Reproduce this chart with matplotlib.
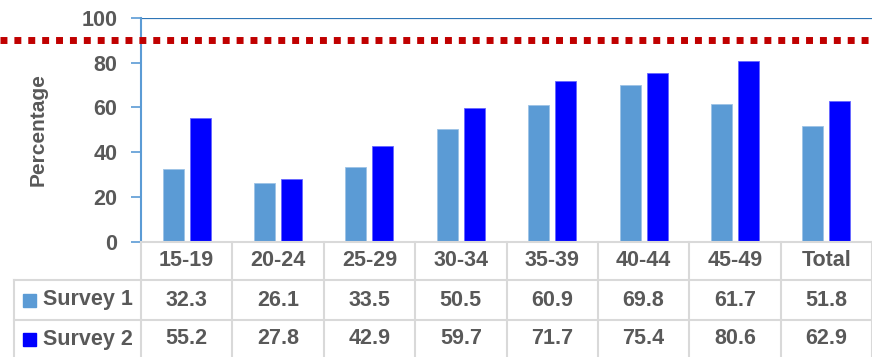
import matplotlib.pyplot as plt
from matplotlib.lines import Line2D
from matplotlib.patches import Rectangle

# Data
age_groups = ['15-19', '20-24', '25-29', '30-34', '35-39', '40-44', '45-49', 'Total']
survey1 = [32.3, 26.1, 33.5, 50.5, 60.9, 69.8, 61.7, 51.8]
survey2 = [55.2, 27.8, 42.9, 59.7, 71.7, 75.4, 80.6, 62.9]
series_names = ['Survey 1', 'Survey 2']
target = 90

c1 = '#5B9BD5'
c2 = '#0000FF'
grey = '#595959'
grid = '#D9D9D9'

plt.rcParams['font.family'] = ['Liberation Sans', 'DejaVu Sans']
plt.rcParams['font.weight'] = 'bold'

W, H = 872, 357
fig = plt.figure(figsize=(W / 100, H / 100), dpi=100)

# pixel helpers (from top-left)
def fx(px):
    return px / W

def fy(py):
    return 1 - py / H

ax_l, ax_r, ax_t, ax_b = 141, 872, 18, 241.5
ax = fig.add_axes([fx(ax_l), fy(ax_b), fx(ax_r - ax_l), (ax_b - ax_t) / H])

n = len(age_groups)
x = list(range(n))
bw = 0.23
off = 0.148
ax.bar([i - off for i in x], survey1, width=bw, color=c1, edgecolor='#9DC3E6', linewidth=0.6, zorder=3)
ax.bar([i + off for i in x], survey2, width=bw, color=c2, edgecolor='#6666FF', linewidth=0.6, zorder=3)

ax.set_xlim(-0.5, n - 0.5)
ax.set_ylim(0, 100)
ax.set_yticks(range(0, 101, 20))
ax.tick_params(axis='y', direction='out', length=7, width=1.2, color=c1,
               labelsize=15.5, labelcolor=grey, pad=10)
for t in ax.get_yticklabels():
    t.set_fontweight('bold')
ax.set_xticks([])
for s in ['right', 'bottom', 'top']:
    ax.spines[s].set_visible(False)
ax.spines['left'].set_color(c1)
ax.spines['left'].set_linewidth(1.5)
ax.axhline(100, color='#2E75B6', lw=1.6, zorder=2)
ax.set_ylabel('Percentage', fontsize=15, color=grey, fontweight='bold', labelpad=24)

# target line runs across the whole figure width
ax.axhline(target, xmin=-fx(ax_l) / fx(ax_r - ax_l), xmax=1, color='#C00000', lw=5,
           linestyle=(0, (1, 1)), dash_capstyle='butt', clip_on=False, zorder=4)

# title (sits mostly above the canvas)
fig.text(fx(377), fy(5), 'MCH', ha='center', va='bottom', fontsize=20, color='black',
         fontweight='bold')

# data table below the plot
col_w = (ax_r - ax_l) / n
rows_y = [241.5, 280, 320, 357]
tbl_left = 14

def hline(py, x0, x1):
    fig.add_artist(Line2D([fx(x0), fx(x1)], [fy(py), fy(py)], color=grid, lw=1.5))

def vline(px, y0, y1):
    fig.add_artist(Line2D([fx(px), fx(px)], [fy(y0), fy(y1)], color=grid, lw=1.5))

hline(rows_y[0], ax_l, W)
hline(rows_y[1], tbl_left, W)
hline(rows_y[2], tbl_left, W)
vline(tbl_left, rows_y[1], H)
for i in range(n + 1):
    vline(ax_l + i * col_w, rows_y[0], H)

fs = 15.5
kw = dict(fontsize=fs, color=grey, fontweight='bold')
for i, lab in enumerate(age_groups):
    cx = fx(ax_l + (i + 0.5) * col_w)
    fig.text(cx, fy(261), lab, ha='center', va='center', **kw)
    fig.text(cx, fy(300), f'{survey1[i]:.1f}', ha='center', va='center', **kw)
    fig.text(cx, fy(339), f'{survey2[i]:.1f}', ha='center', va='center', **kw)

for cy, name, col in zip([300, 339], series_names, [c1, c2]):
    fig.add_artist(Rectangle((fx(23), fy(cy + 6.5)), fx(13), 13 / H, color=col))
    fig.text(fx(43), fy(cy), name, ha='left', va='center', **kw)

plt.savefig('out.png', dpi=100)
